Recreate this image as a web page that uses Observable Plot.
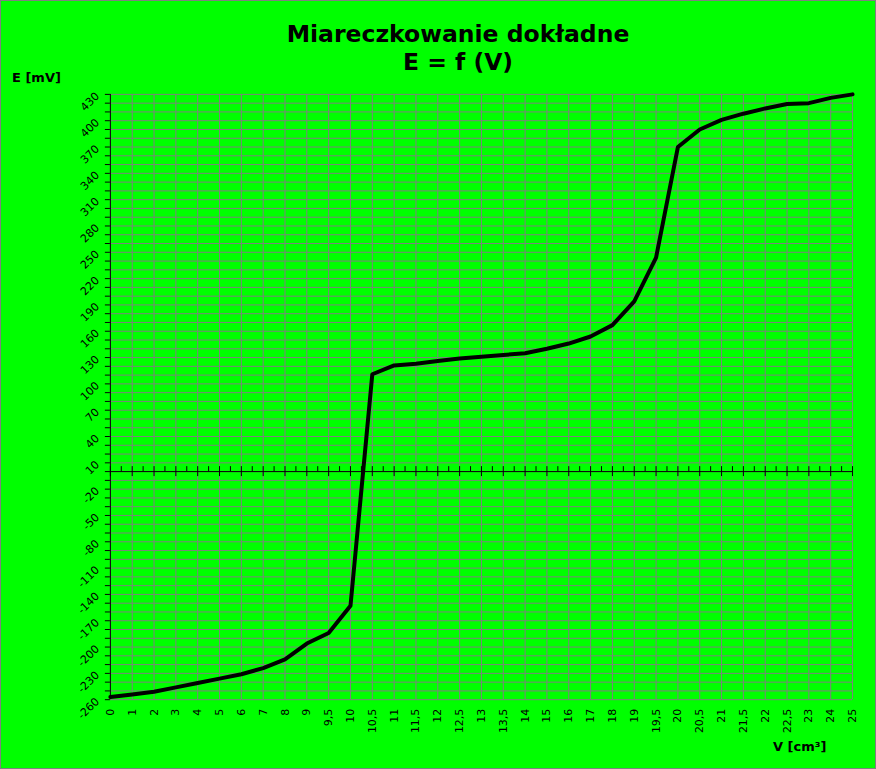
<!DOCTYPE html>
<html>
<head>
<meta charset="utf-8">
<script src="https://cdn.jsdelivr.net/npm/d3@7"></script>
<script src="https://cdn.jsdelivr.net/npm/@observablehq/plot@0.6"></script>
<style>
html, body { margin: 0; padding: 0; background: #00ff00; }
#chart { position: relative; width: 876px; height: 769px; box-sizing: border-box; border: 1px solid #808080; background: #00ff00; overflow: hidden; font-family: "DejaVu Sans", sans-serif; color: #000; }
#title { position: absolute; left: 157px; width: 600px; top: 19px; text-align: center; font-weight: bold; font-size: 23.5px; line-height: 28px; }
#ylab { position: absolute; left: 11px; top: 69px; font-weight: bold; font-size: 13px; line-height: 16px; }
#xlab { position: absolute; left: 772px; top: 738px; font-weight: bold; font-size: 13px; line-height: 16px; }
#plot { position: absolute; left: -1px; top: -1px; }
</style>
</head>
<body>
<div id="chart">
  <div id="plot"></div>
  <div id="title">Miareczkowanie dokładne<br>E = f (V)</div>
  <div id="ylab">E [mV]</div>
  <div id="xlab">V [cm³]</div>
</div>
<script>
// Titrant volume (categories, cm³)
const volumes = [0, 1, 2, 3, 4, 5, 6, 7, 8, 9, 9.5, 10, 10.5, 11, 11.5, 12, 12.5, 13, 13.5, 14, 15, 16, 17, 18, 19, 19.5, 20, 20.5, 21, 21.5, 22, 22.5, 23, 24, 25];
// Measured potential E (mV)
const potentials = [-257, -254, -251, -246, -241, -236, -231, -224, -214, -196, -184, -153, 111, 121, 123, 126, 129, 131, 133, 135, 140, 146, 154, 167, 194, 244, 370, 390, 401, 408, 414, 419, 420, 426, 430];
// Y tick marks (every 10) and labelled ticks (every 30)
const yTicks = d3.range(-260, 431, 10);
const yLabels = [-260, -230, -200, -170, -140, -110, -80, -50, -20, 10, 40, 70, 100, 130, 160, 190, 220, 250, 280, 310, 340, 370, 400, 430];

const idx = volumes.map((v, i) => i);
const minor = idx.slice(0, -1).map(i => i + 0.5);
const fmt = v => String(v).replace(".", ",");

const chart = Plot.plot({
  width: 876,
  height: 769,
  marginLeft: 110,
  marginRight: 23,
  marginTop: 94,
  marginBottom: 69,
  style: { background: "transparent", fontFamily: "DejaVu Sans", fontSize: "11px", color: "black", overflow: "visible" },
  x: { type: "linear", domain: [0, volumes.length - 1], axis: null },
  y: { domain: [-260, 430], axis: null },
  marks: [
    Plot.gridX(idx, { stroke: "#808080", strokeOpacity: 1 }),
    Plot.gridY(yTicks, { stroke: "#808080", strokeOpacity: 1 }),
    Plot.axisY(yTicks, {
      tickSize: 5, tickRotate: -45, tickPadding: 8, label: null,
      tickFormat: v => yLabels.includes(v) ? String(v) : ""
    }),
    Plot.axisX(idx, {
      anchor: "bottom", tickSize: 0, tickRotate: -90, tickPadding: 9, label: null,
      tickFormat: i => fmt(volumes[i])
    }),
    Plot.ruleX([0], { stroke: "black" }),
    Plot.ruleY([0], { stroke: "black" }),
    Plot.ruleX(idx, { y1: 0, y2: 0, insetTop: -5, insetBottom: -5, stroke: "black" }),
    Plot.ruleX(minor, { y1: 0, y2: 0, insetTop: -5, insetBottom: 0, stroke: "black" }),
    Plot.line(idx, { x: i => i, y: i => potentials[i], stroke: "black", strokeWidth: 4 })
  ]
});
document.getElementById("plot").appendChild(chart);
</script>
</body>
</html>
